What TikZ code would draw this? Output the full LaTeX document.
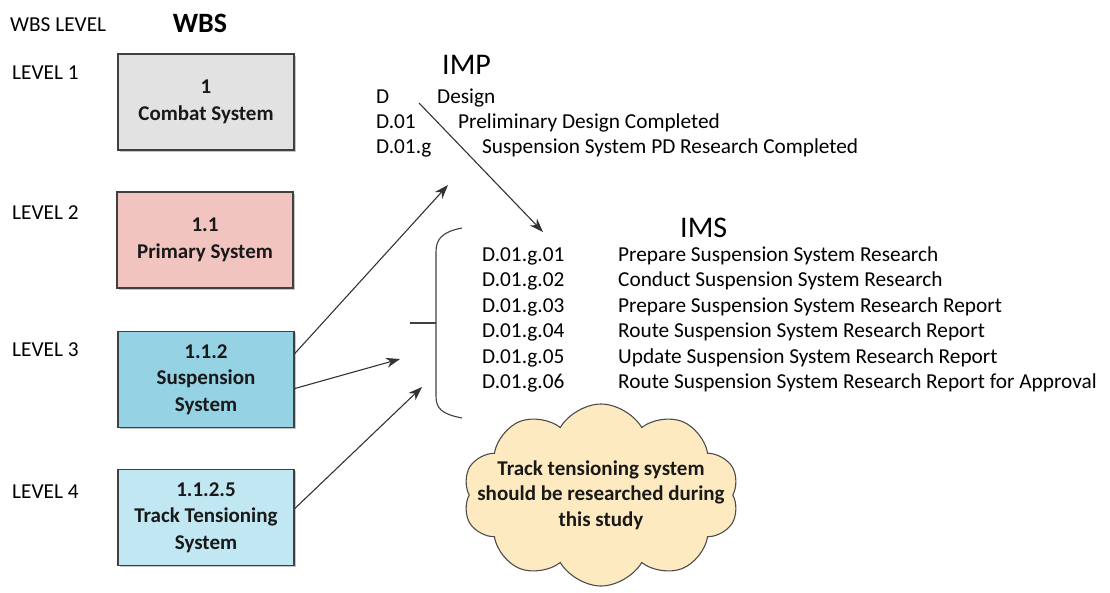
\documentclass[tikz,border=0pt]{standalone}
\usepackage{fontspec}
\setmainfont{Carlito}
\usepackage{tikz}
\usetikzlibrary{calc,positioning,arrows.meta,shapes.symbols,shadows}
\usepackage{xcolor}
\newcommand{\txt}{\fontsize{21.3}{25.4}\selectfont}
\newcommand{\boxtxt}{\fontsize{21}{26.5}\selectfont\bfseries}
\definecolor{lvlonec}{RGB}{226,226,226}
\definecolor{lvltwoc}{RGB}{242,196,192}
\definecolor{lvlthreec}{RGB}{148,210,228}
\definecolor{lvlfourc}{RGB}{192,231,242}
\definecolor{cloudc}{RGB}{254,234,192}
\tikzset{
  wbs/.style={rectangle,draw=black!75,line width=1.6pt,minimum width=176,minimum height=96,inner sep=2pt,align=center,font=\boxtxt,text=black!90,
    drop shadow={shadow xshift=1.6pt,shadow yshift=-1.6pt,opacity=.45}},
  lvl/.style={anchor=base west,inner sep=0pt,font=\txt},
  lst/.style={anchor=base west,inner sep=0pt,font=\txt},
  hdr/.style={anchor=base west,inner sep=0pt,font=\fontsize{30}{30}\selectfont},
  flow/.style={-{Stealth[length=14pt,width=10pt]},line width=1.1pt,black!80},
  brace/.style={line width=1.1pt,black!75},
  cld/.style={cloud,cloud puffs=10,cloud puff arc=120,cloud ignores aspect,draw=black!70,line width=1.1pt,fill=cloudc,inner sep=0pt,minimum width=276,minimum height=182},
  cldtxt/.style={align=center,inner sep=0pt,font=\fontsize{21}{25.5}\selectfont\bfseries,text=black!90},
}
\begin{document}
\begin{tikzpicture}[x=1pt,y=-1pt]
  \useasboundingbox (0,0) rectangle (1110,592);
  % WBS column
  \node[lvl] (wl) at (10,31.4) {WBS LEVEL};
  \node[anchor=base,inner sep=0pt,font=\fontsize{28}{28}\selectfont\bfseries] (wh) at (200,32) {WBS};
  \node[lvl] (l1) at (12,79.4) {LEVEL 1};
  \node[lvl] (l2) at (12,219.4) {LEVEL 2};
  \node[lvl] (l3) at (12,356.4) {LEVEL 3};
  \node[lvl] (l4) at (12,498.4) {LEVEL 4};
  \node[wbs,fill=lvlonec] (C) at (206,102) {1\\Combat System};
  \node[wbs,fill=lvltwoc] (P) at (205,240) {1.1\\Primary System};
  \node[wbs,fill=lvlthreec] (S) at (206,379.5) {1.1.2\\Suspension\\System};
  \node[wbs,fill=lvlfourc] (T) at (206,517.5) {1.1.2.5\\Track Tensioning\\System};
  % IMP
  \node[hdr] (imp) at (442,74.7) {IMP};
  \node[lst] (d0) at (376,103.4) {D};
  \node[lst] (d0t) at (437,103.4) {Design};
  \node[lst] (d1) at (376,128.4) {D.01};
  \node[lst] (d1t) at (458,128.4) {Preliminary Design Completed};
  \node[lst] (d2) at (376,153.4) {D.01.g};
  \node[lst] (d2t) at (482,153.4) {Suspension System PD Research Completed};
  % IMS
  \node[hdr] (ims) at (680,237) {IMS};
  \node[lst] (g1) at (482,261.4) {D.01.g.01};
  \node[lst] (g1t) at (618,261.4) {Prepare Suspension System Research};
  \node[lst] (g2) at (482,286.8) {D.01.g.02};
  \node[lst] (g2t) at (618,286.8) {Conduct Suspension System Research};
  \node[lst] (g3) at (482,312.2) {D.01.g.03};
  \node[lst] (g3t) at (618,312.2) {Prepare Suspension System Research Report};
  \node[lst] (g4) at (482,337.6) {D.01.g.04};
  \node[lst] (g4t) at (618,337.6) {Route Suspension System Research Report};
  \node[lst] (g5) at (482,363) {D.01.g.05};
  \node[lst] (g5t) at (618,363) {Update Suspension System Research Report};
  \node[lst] (g6) at (482,388.4) {D.01.g.06};
  \node[lst] (g6t) at (618,388.4) {Route Suspension System Research Report for Approval};
  % note
  \node[cld] (note) at (601,495) {};
  \node[cldtxt] (notet) at (note.center) {Track tensioning system\\should be researched during\\this study};
  % connectors
  \coordinate (impout) at (419,103);
  \coordinate (imsin) at (543,232);
  \coordinate (impin) at (448,185);
  \coordinate (brin) at (400,359);
  \coordinate (brin2) at (422,387);
  \draw[flow] (impout) -- (imsin);
  \draw[flow] ([yshift=26pt]S.east) -- (impin);
  \draw[flow] ([yshift=-9pt]S.east) -- (brin);
  \draw[flow] ([yshift=9pt]T.east) -- (brin2);
  \draw[brace] (462,228) .. controls (441,232) and (436,240) .. (436,252) -- (436,396)
      .. controls (436,408) and (441,414) .. (462,418);
  \draw[brace] (410,323) -- (436,323);
\end{tikzpicture}
\end{document}
